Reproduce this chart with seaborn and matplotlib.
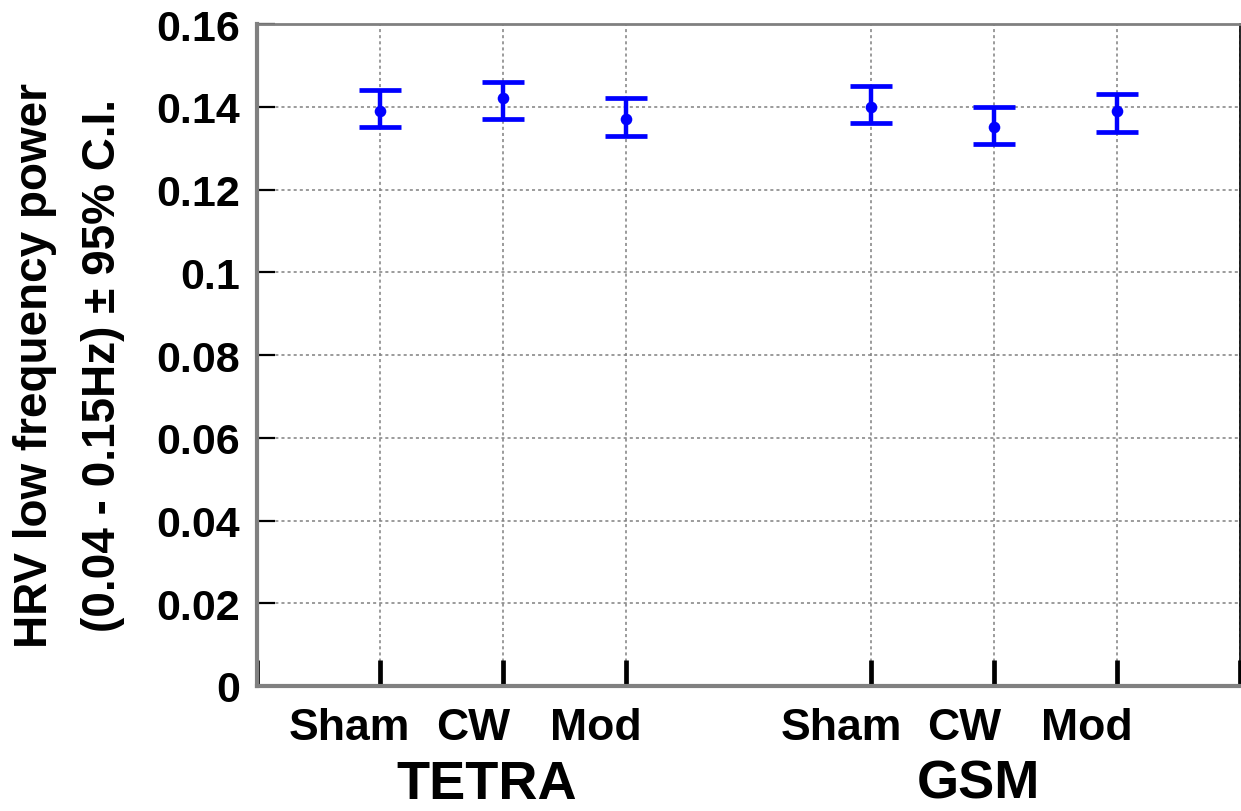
import matplotlib
matplotlib.use("Agg")
import matplotlib.pyplot as plt
import matplotlib.transforms as mtransforms
import seaborn as sns
import pandas as pd
import numpy as np

# ---- data ----
conditions = ["Sham", "CW", "Mod", "Sham", "CW", "Mod"]
systems = ["TETRA", "TETRA", "TETRA", "GSM", "GSM", "GSM"]
positions = [1, 2, 3, 5, 6, 7]
means = [0.139, 0.142, 0.137, 0.140, 0.135, 0.139]
ci_low = [0.135, 0.137, 0.133, 0.136, 0.131, 0.134]
ci_high = [0.144, 0.146, 0.142, 0.145, 0.140, 0.143]
group_labels = ["TETRA", "GSM"]
group_centers = [2, 6]
yticks = [0, 0.02, 0.04, 0.06, 0.08, 0.1, 0.12, 0.14, 0.16]
ytick_labels = ["0", "0.02", "0.04", "0.06", "0.08", "0.1", "0.12", "0.14", "0.16"]

df = pd.DataFrame({"pos": positions, "mean": means, "lo": ci_low, "hi": ci_high,
                   "cond": conditions, "system": systems})

sns.set_theme(style="white", rc={"text.color": "black", "axes.labelcolor": "black",
                                 "xtick.color": "black", "ytick.color": "black"})
plt.rcParams["font.family"] = ["Liberation Sans", "DejaVu Sans"]
plt.rcParams["font.weight"] = "bold"

fig = plt.figure(figsize=(12.41, 8.12), dpi=100)
ax = fig.add_axes([257 / 1241, 1 - 687 / 812, (1240 - 257) / 1241, (687 - 25) / 812])

blue = "#0000ff"
yerr = np.vstack([df["mean"] - df["lo"], df["hi"] - df["mean"]])
ax.errorbar(df["pos"], df["mean"], yerr=yerr, fmt="none", ecolor=blue,
            elinewidth=3.2, capsize=15, capthick=3.4, zorder=3)
sns.scatterplot(data=df, x="pos", y="mean", ax=ax, color=blue, s=70,
                edgecolor=blue, linewidth=0, zorder=4, legend=False)

ax.set_xlim(0, 8)
ax.set_ylim(0, 0.16)
ax.set_yticks(yticks)
ax.set_yticklabels(ytick_labels)
xt = [0] + positions + [8]
ax.set_xticks(xt)
ax.set_xticklabels([""] + conditions + [""])

ax.grid(True, color="#808080", linestyle=(0, (2.0, 2.0)), linewidth=1.1)
ax.set_axisbelow(True)

ax.tick_params(axis="y", direction="in", length=13, width=1.6, color="black",
               labelcolor="black", labelsize=31, pad=12, left=True)
ax.tick_params(axis="x", direction="in", length=19, width=3.4, color="black",
               labelcolor="black", labelsize=32, pad=15, bottom=True)
shift = mtransforms.ScaledTranslation(-30 / 100, 0, fig.dpi_scale_trans)
for lab in ax.get_xticklabels():
    lab.set_fontweight("bold")
    lab.set_transform(lab.get_transform() + shift)
for lab in ax.get_yticklabels():
    lab.set_fontweight("bold")

for side in ["left", "bottom"]:
    ax.spines[side].set_color("#808080")
    ax.spines[side].set_linewidth(3.0)
ax.spines["top"].set_color("#808080")
ax.spines["top"].set_linewidth(2.0)
ax.spines["right"].set_color("black")
ax.spines["right"].set_linewidth(1.2)

ax.set_xlabel("")
ax.set_ylabel("")

trans = mtransforms.blended_transform_factory(ax.transData, fig.transFigure)
gshift = mtransforms.ScaledTranslation(-16 / 100, 0, fig.dpi_scale_trans)
for lab, c in zip(group_labels, group_centers):
    ax.text(c, 1 - 785 / 812, lab, transform=trans + gshift, ha="center", va="center",
            fontsize=39, fontweight="bold", color="black")

fig.text(35 / 1241, 1 - 365 / 812, "HRV low frequency power", rotation=90,
         ha="center", va="center", fontsize=33, fontweight="bold", color="black")
fig.text(103 / 1241, 1 - 365 / 812, "(0.04 - 0.15Hz) \u00b1 95% C.I.", rotation=90,
         ha="center", va="center", fontsize=33, fontweight="bold", color="black")

fig.savefig("out.png", dpi=100)
